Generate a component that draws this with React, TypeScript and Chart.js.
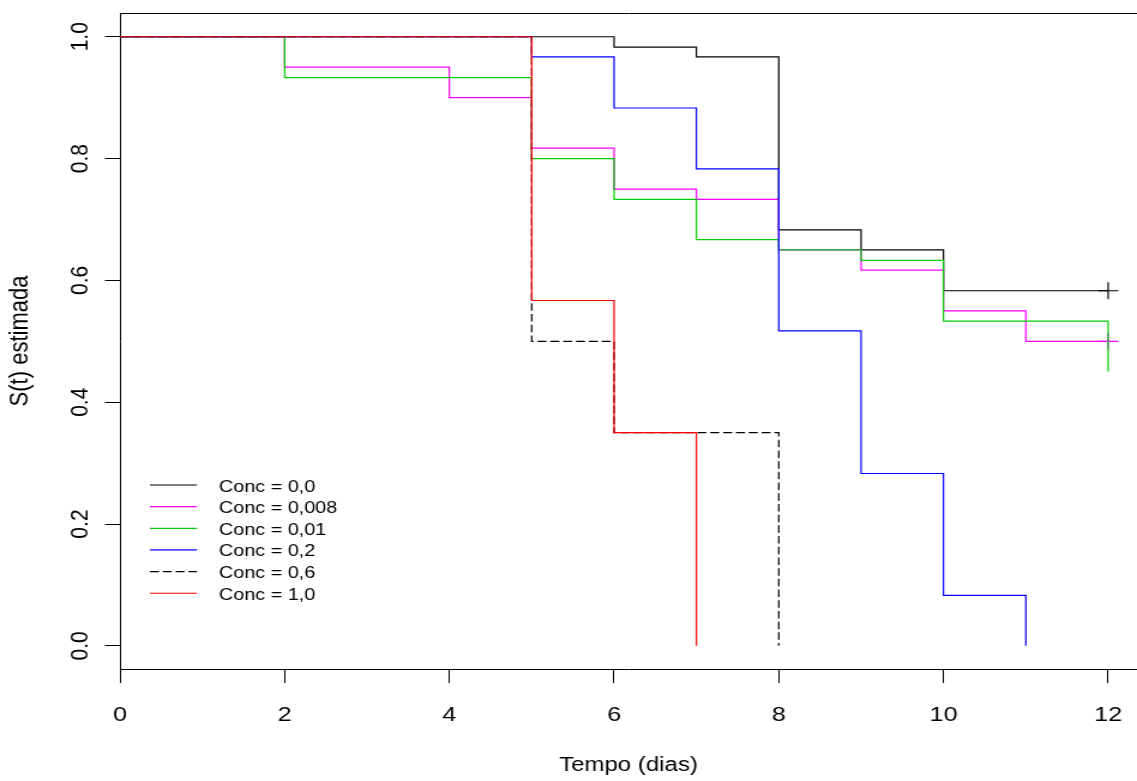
import React, { useEffect, useRef } from "react";
import { Chart, registerables } from "chart.js";

Chart.register(...registerables);

// ---------------- data ----------------
const seriesLabels = ["Conc = 0,0", "Conc = 0,008", "Conc = 0,01", "Conc = 0,2", "Conc = 0,6", "Conc = 1,0"];

const timesC0 = [0, 6, 7, 8, 9, 10, 12];
const survC0 = [1, 0.983, 0.967, 0.683, 0.65, 0.583, 0.583];

const timesC0008 = [0, 2, 4, 5, 6, 7, 8, 9, 10, 11, 12];
const survC0008 = [1, 0.95, 0.9, 0.817, 0.75, 0.733, 0.65, 0.617, 0.55, 0.5, 0.5];

const timesC001 = [0, 2, 5, 6, 7, 8, 9, 10, 12];
const survC001 = [1, 0.933, 0.8, 0.733, 0.667, 0.65, 0.633, 0.533, 0.45];

const timesC02 = [0, 5, 6, 7, 8, 9, 10, 11];
const survC02 = [1, 0.967, 0.883, 0.783, 0.517, 0.283, 0.083, 0];

const timesC06 = [0, 5, 6, 8];
const survC06 = [1, 0.5, 0.35, 0];

const timesC1 = [0, 5, 6, 7];
const survC1 = [1, 0.567, 0.35, 0];

// censored observations ("+" marks)
const censorTimesC0 = [12];
const censorSurvC0 = [0.583];
const censorTimesC0008 = [12];
const censorSurvC0008 = [0.5];

const xTickValues = [0, 2, 4, 6, 8, 10, 12];
const yTickValues = [0, 0.2, 0.4, 0.6, 0.8, 1.0];
const yTickLabels = ["0.0", "0.2", "0.4", "0.6", "0.8", "1.0"];
const xTitle = "Tempo (dias)";
const yTitle = "S(t) estimada";

// ---------------- styles / layout ----------------
const SCREEN_W = 1137;
const SCREEN_H = 781;
const STRETCH = 1.2; // the reference is horizontally stretched
const CANVAS_W = Math.round(SCREEN_W / STRETCH);
const FONT = "'Liberation Sans', Arial, Helvetica, sans-serif";

const colors = ["#000000", "#FF00FF", "#00CD00", "#0000FF", "#000000", "#FF0000"];
const dashes: number[][] = [[], [], [], [], [7.5, 3.2], []];
const LINE_W = 1.2;

const toPoints = (t: number[], s: number[]) => t.map((x, i) => ({ x, y: s[i] }));

const legendPlugin = {
  id: "rLegend",
  afterDatasetsDraw(chart: any) {
    const ctx = chart.ctx as CanvasRenderingContext2D;
    const x1 = 125, x2 = 164.2, textX = 182.6, y0 = 485, dy = 21.65;
    ctx.save();
    ctx.font = `16.5px ${FONT}`;
    ctx.textBaseline = "middle";
    ctx.textAlign = "left";
    let row = 0;
    chart.data.datasets.forEach((ds: any) => {
      if (!ds.isCurve) return;
      const y = y0 + row * dy;
      ctx.beginPath();
      ctx.strokeStyle = ds.borderColor;
      ctx.lineWidth = ds.borderWidth;
      ctx.setLineDash(ds.borderDash || []);
      ctx.moveTo(x1, y);
      ctx.lineTo(x2, y);
      ctx.stroke();
      ctx.setLineDash([]);
      ctx.fillStyle = "#000";
      ctx.fillText(ds.label, textX, y + 2);
      row++;
    });
    ctx.restore();
  },
};

export default function App() {
  const ref = useRef<HTMLCanvasElement | null>(null);

  useEffect(() => {
    if (!ref.current) return;
    const curves = [
      toPoints(timesC0, survC0),
      toPoints(timesC0008, survC0008),
      toPoints(timesC001, survC001),
      toPoints(timesC02, survC02),
      toPoints(timesC06, survC06),
      toPoints(timesC1, survC1),
    ];
    const datasets: any[] = curves.map((data, i) => ({
      type: "line",
      label: seriesLabels[i],
      isCurve: true,
      data,
      borderColor: colors[i],
      backgroundColor: colors[i],
      borderDash: dashes[i],
      borderWidth: LINE_W,
      pointRadius: 0,
      pointHoverRadius: 0,
      stepped: true,
      fill: false,
      order: 10 - 2 * i,
    }));
    const censorSets = [
      { t: censorTimesC0, s: censorSurvC0, idx: 0 },
      { t: censorTimesC0008, s: censorSurvC0008, idx: 1 },
    ];
    censorSets.forEach((c) => {
      datasets.push({
        type: "line",
        label: seriesLabels[c.idx] + " (censura)",
        isCurve: false,
        data: toPoints(c.t, c.s),
        showLine: false,
        pointStyle: "cross",
        pointRadius: 8.5,
        pointHoverRadius: 8.5,
        pointBorderColor: colors[c.idx],
        pointBackgroundColor: colors[c.idx],
        pointBorderWidth: LINE_W,
        borderColor: colors[c.idx],
        order: 10 - 2 * c.idx - 1,
      });
    });

    const xMax = 12.35;
    const chart = new Chart(ref.current, {
      type: "line",
      data: { datasets },
      plugins: [legendPlugin],
      options: {
        animation: false,
        responsive: false,
        devicePixelRatio: 1,
        layout: { padding: 0, autoPadding: false },
        plugins: {
          legend: { display: false },
          tooltip: { enabled: false },
          title: { display: false },
        },
        scales: {
          x: {
            type: "linear",
            position: "bottom",
            min: 0,
            max: xMax,
            afterBuildTicks: (s: any) => {
              s.ticks = xTickValues.map((v) => ({ value: v }));
            },
            afterFit: (s: any) => {
              s.height = 112;
              s.paddingLeft = 0;
              s.paddingRight = 0;
            },
            grid: {
              display: true,
              drawOnChartArea: false,
              drawTicks: true,
              tickLength: 14,
              color: "#000",
              lineWidth: 1,
            },
            border: { display: true, color: "#000", width: 1 },
            ticks: {
              color: "#000",
              font: { family: FONT, size: 21 },
              padding: 19.4,
              minRotation: 0,
              maxRotation: 0,
              autoSkip: false,
              callback: (v: any) => String(v),
            },
            title: {
              display: true,
              text: xTitle,
              color: "#000",
              font: { family: FONT, size: 20 },
              padding: { top: 0, bottom: 3.6 },
            },
          },
          x2: {
            type: "linear",
            position: "top",
            min: 0,
            max: xMax,
            afterFit: (s: any) => {
              s.height = 13;
              s.paddingLeft = 0;
              s.paddingRight = 0;
            },
            grid: { display: true, drawOnChartArea: false, drawTicks: false },
            border: { display: true, color: "#000", width: 1 },
            ticks: { display: false },
          },
          y: {
            type: "linear",
            position: "left",
            min: -0.038,
            max: 1.039,
            afterBuildTicks: (s: any) => {
              s.ticks = yTickValues.map((v) => ({ value: v }));
            },
            afterFit: (s: any) => {
              s.width = 120 / STRETCH;
              s.paddingTop = 0;
              s.paddingBottom = 0;
            },
            grid: {
              display: true,
              drawOnChartArea: false,
              drawTicks: true,
              tickLength: 15 / STRETCH,
              color: "#000",
              lineWidth: 1,
            },
            border: { display: true, color: "#000", width: 1 },
            ticks: {
              color: "#000",
              font: { family: FONT, size: 21 },
              padding: 6.2,
              minRotation: 90,
              maxRotation: 90,
              crossAlign: "center",
              autoSkip: false,
              callback: (v: any) => {
                const i = yTickValues.findIndex((t) => Math.abs(t - Number(v)) < 1e-9);
                return i >= 0 ? yTickLabels[i] : "";
              },
            },
            title: {
              display: true,
              text: yTitle,
              color: "#000",
              font: { family: FONT, size: 22 },
              padding: { top: 4.2, bottom: 0 },
            },
          },
        },
      } as any,
    });
    return () => chart.destroy();
  }, []);

  return (
    <canvas
      ref={ref}
      width={CANVAS_W}
      height={SCREEN_H}
      style={{ position: "fixed", left: 0, top: 0, width: `${SCREEN_W}px`, height: `${SCREEN_H}px` }}
    />
  );
}
